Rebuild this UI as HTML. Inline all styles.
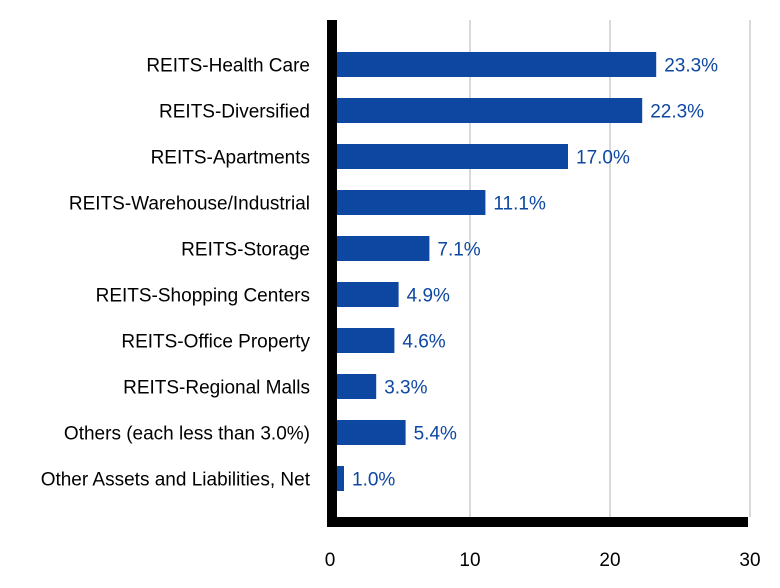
<!DOCTYPE html>
<html><head><meta charset="utf-8"><style>
body{margin:0;background:#fff;}
svg{display:block;font-family:"Liberation Sans",Arial,sans-serif;}
</style></head><body>
<svg id="chart" width="780" height="588">
<g id="grid"></g><g id="bars"></g><g id="labels"></g>
<rect x="327" y="20" width="10" height="507" fill="#000"/>
<rect x="327" y="517" width="421" height="10" fill="#000"/>
<g id="ticks"></g>
</svg>
<script>
const categories=["REITS-Health Care","REITS-Diversified","REITS-Apartments","REITS-Warehouse/Industrial","REITS-Storage","REITS-Shopping Centers","REITS-Office Property","REITS-Regional Malls","Others (each less than 3.0%)","Other Assets and Liabilities, Net"];
const values=[23.3,22.3,17.0,11.1,7.1,4.9,4.6,3.3,5.4,1.0];
const valueLabels=["23.3%","22.3%","17.0%","11.1%","7.1%","4.9%","4.6%","3.3%","5.4%","1.0%"];
const ticks=[0,10,20,30];
const NS="http://www.w3.org/2000/svg";
const x=v=>330+v*14;
const y=i=>64.5+i*46;
function mk(t,a,p){const e=document.createElementNS(NS,t);for(const k in a)e.setAttribute(k,a[k]);document.getElementById(p).appendChild(e);return e;}
ticks.forEach(t=>{
 if(t>0){const g=mk('line',{x1:x(t),x2:x(t),y1:20,y2:517,stroke:'#d9d9d9','stroke-width':2},'grid');
 
 }
 const l=mk('text',{x:x(t),y:566,'text-anchor':'middle','font-size':19,fill:'#000'},'ticks');
 l.textContent=t;
 
 
});
categories.forEach((c,i)=>{
 const b=mk('rect',{x:337,y:y(i)-12.5,width:Math.max(0,x(values[i])-337),height:25,fill:'#0d47a1'},'bars');
 
 
 const v=mk('text',{x:x(values[i])+8,y:y(i)+7,'font-size':19,fill:'#0d47a1'},'labels');
 v.textContent=valueLabels[i];
 
 
 const t=mk('text',{x:310,y:y(i)+7,'text-anchor':'end','font-size':19,fill:'#000'},'labels');
 t.textContent=c;
 
 
});
</script>
</body></html>
